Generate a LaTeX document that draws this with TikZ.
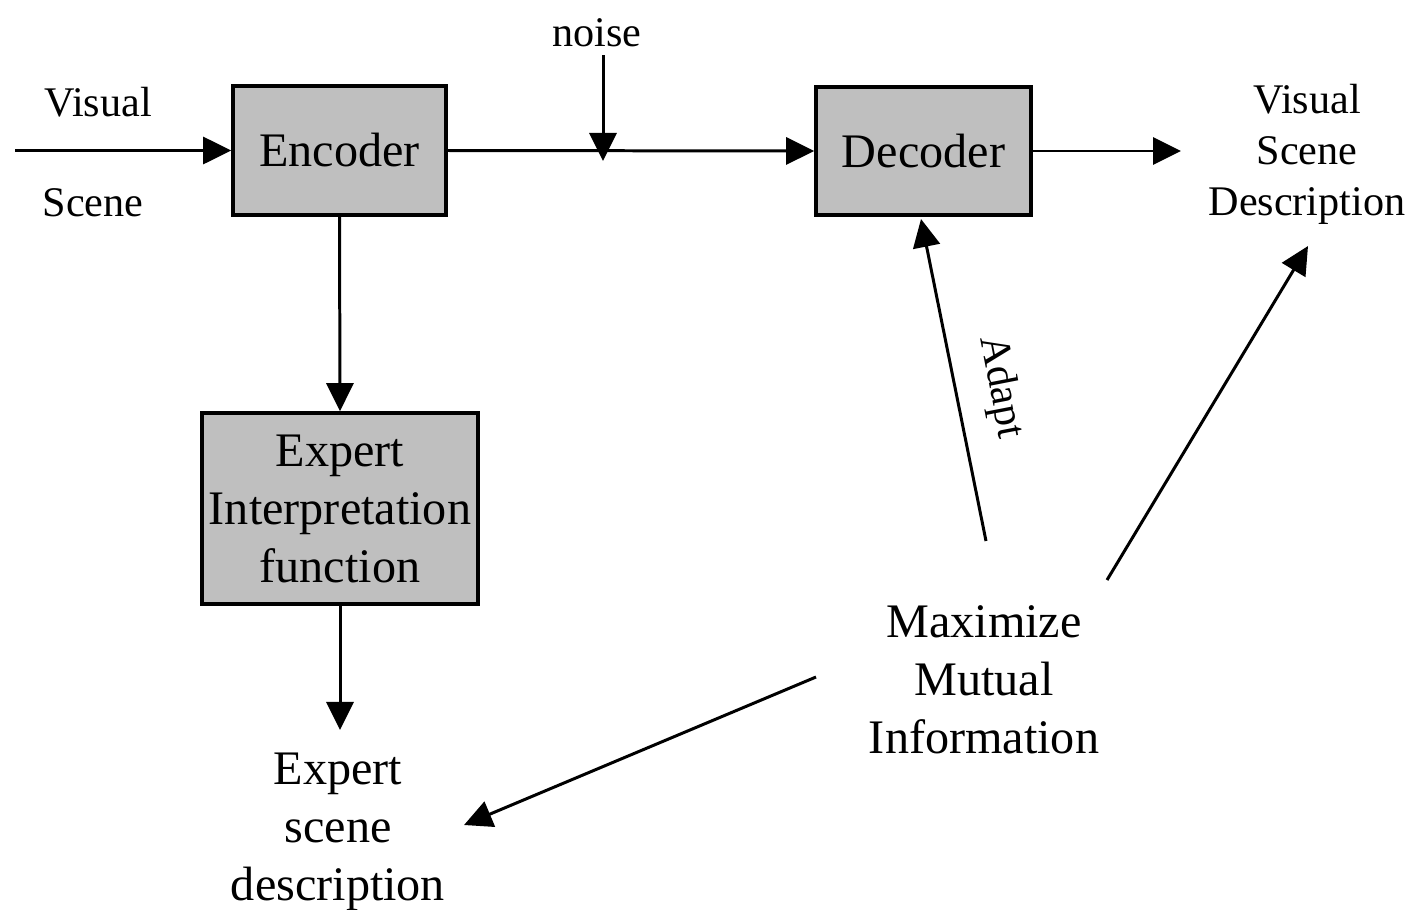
\documentclass[tikz,border=0pt]{standalone}
\usepackage{fontspec}
\setmainfont{Liberation Serif}
\usetikzlibrary{arrows.meta}
\begin{document}
\begin{tikzpicture}[x=0.01cm,y=-0.01cm,
  line width=0.85pt,
  arr/.style={-{Triangle[length=2.8mm,width=2.7mm]}},
  blk/.style={draw,line width=1pt,fill=gray!50,inner sep=0pt,align=center,
     font=\fontsize{13.7}{16.5}\selectfont},
  small/.style={inner sep=0pt,align=center,font=\fontsize{12}{14.5}\selectfont},
  big/.style={inner sep=0pt,align=center,font=\fontsize{13.7}{16.5}\selectfont}]
\useasboundingbox (0,0) rectangle (1413,909);
% boxes
\node[blk,minimum width=2.13cm,minimum height=1.29cm] (enc) at (339.5,150.5) {Encoder};
\node[blk,minimum width=2.15cm,minimum height=1.28cm] (dec) at (923.5,151) {Decoder};
\node[blk,minimum width=2.76cm,minimum height=1.91cm] (exp) at (340,508.5) {\raisebox{-3pt}{\parbox{2.7cm}{\centering Expert\\Interpretation\\function}}};
% labels
\node[small] (vis) at (98,102) {Visual};
\node[small] (scn) at (93,203) {Scene};
\node[small] (noise) at (597,33) {noise};
\node[small] (vsd) at (1307,154) {Visual\\Scene\\Description};
\node[big] (mmi) at (984,680) {Maximize\\Mutual\\Information};
\node[big] (esd) at (338,832) {Expert\\scene\\description};
\node[small,rotate=-79] (adapt) at (1000,387) {Adapt};
% coordinates
\coordinate (in) at (15,150.5);
\coordinate (ntop) at (603,55);
\coordinate (ntip) at (603,161);
\coordinate (out) at (1181,151);
\coordinate (atail) at (986,541);
\coordinate (atip) at (921,219);
\coordinate (vtail) at (1107,580);
\coordinate (vtip) at (1308,246);
\coordinate (etail) at (816,677);
\coordinate (etip) at (464,825);
\coordinate (xtip) at (340,730);
% connectors
\draw[arr] (in) -- (enc.west);
\draw[arr] (enc.east) -- (dec.west);
\draw[arr] (ntop) -- (ntip);
\draw[arr] (dec.east) -- (out);
\draw[arr] (enc.south) -- (exp.north);
\draw[arr] (exp.south) -- (xtip);
\draw[arr] (atail) -- (atip);
\draw[arr] (vtail) -- (vtip);
\draw[arr] (etail) -- (etip);
\end{tikzpicture}
\end{document}
